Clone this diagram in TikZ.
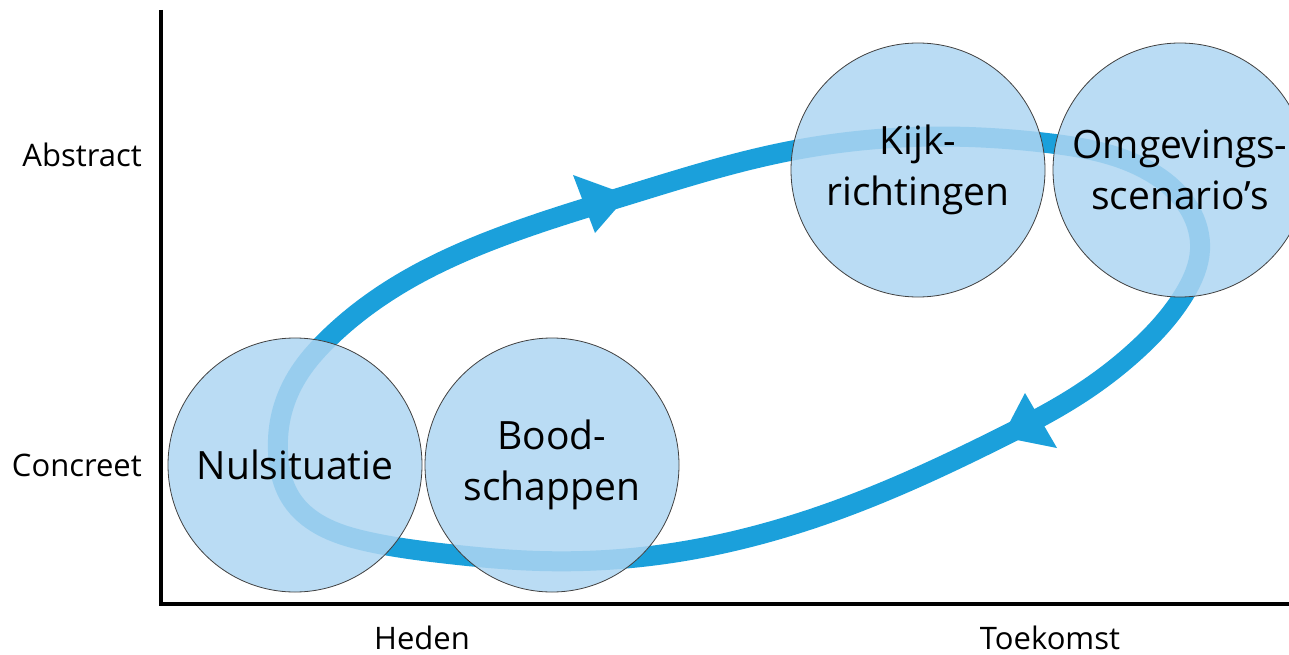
\documentclass[tikz,border=0pt]{standalone}
\usepackage{fontspec}
\setmainfont{Open Sans}
\usetikzlibrary{hobby}
\definecolor{loopblue}{RGB}{27,160,219}
\definecolor{circblue}{RGB}{174,214,242}
\tikzset{
  stage/.style={circle, draw=black!75, line width=0.8pt, fill=circblue, fill opacity=0.85, text opacity=1,
    minimum size=254pt, inner sep=0pt, align=center, font=\fontsize{39}{51}\selectfont},
  axislabel/.style={font=\fontsize{31}{36}\selectfont, inner sep=0pt},
  loop/.style={draw=loopblue, line width=20pt},
  tip/.style={fill=loopblue, draw=none}
}
\begin{document}
\begin{tikzpicture}[x=1pt,y=-1pt]
\useasboundingbox (0,0) rectangle (1289,655);
\clip (0,0) rectangle (1289,655);
% axes
\coordinate (origin) at (161,604);
\coordinate (ytop) at (161,10);
\coordinate (xend) at (1295,604);
\draw[line width=4.5pt] (ytop) -- (origin) -- (xend);
% axis labels
\node[axislabel, anchor=east] (abs) at (142,155) {Abstract};
\node[axislabel, anchor=east] (con) at (142,465) {Concreet};
\node[axislabel] (hed) at (422,638) {Heden};
\node[axislabel] (toe) at (1050,638) {Toekomst};
% loop
\draw[loop, use Hobby shortcut, closed=true]
  (278,452) .. (282,412) .. (300,372) .. (327,340) .. (400,284) .. (500,237) .. (628,195) ..
  (780,153) .. (913,137) .. (1047,143) .. (1147,170) .. (1190,210) .. (1200,250) ..
  (1185,293) .. (1140,347) .. (1075,397) .. (1002,437) .. (826,514) .. (650,556) .. (540,561) ..
  (440,553) .. (365,541) .. (320,525) .. (292,500);
% arrowheads
\fill[tip] (573,175) -- (628,195) -- (595,233) -- cycle;
\fill[tip] (1025,393) -- (1002,437) -- (1057,448) -- cycle;
% stages
\node[stage] (nul) at (295,465) {Nulsituatie};
\node[stage] (bood) at (552,465) {Bood-\\schappen};
\node[stage] (kijk) at (918,170) {Kijk-\\richtingen};
\node[stage] (omg) at (1180,170) {Omgevings-\\scenario’s};
\end{tikzpicture}
\end{document}
